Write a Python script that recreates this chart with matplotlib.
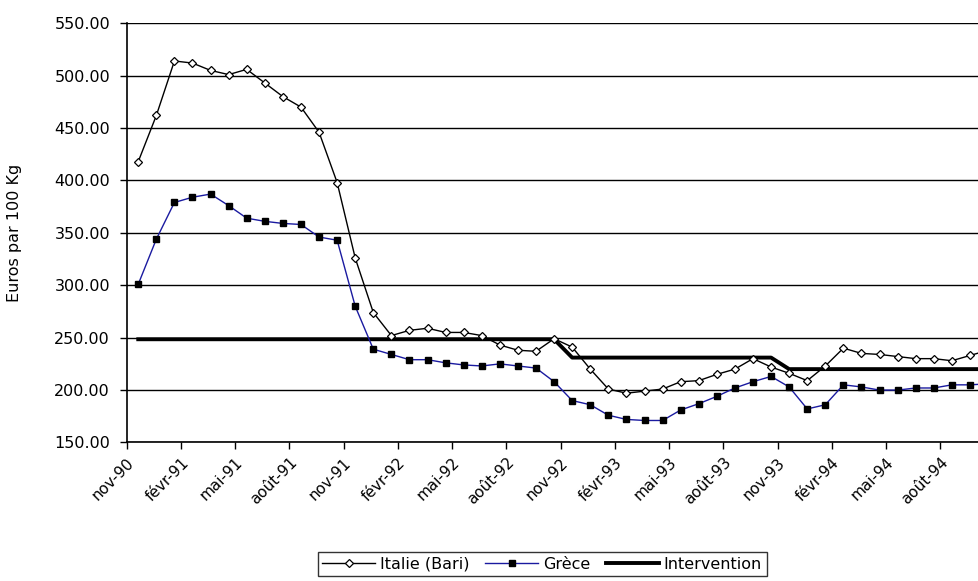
import matplotlib.pyplot as plt

plt.rcParams['font.family'] = ['DejaVu Sans']

# === Données (mensuelles, nov-90 -> oct-94) ===
italie = [418, 462, 514, 512, 505, 501, 506, 493, 480, 470, 446, 398,
          326, 274, 252, 257, 259, 255, 255, 252, 243, 238, 237, 249,
          241, 220, 201, 197, 199, 201, 208, 209, 215, 220, 230, 222,
          216, 209, 223, 240, 235, 234, 232, 230, 230, 228, 233, 238]
grece = [301, 344, 379, 384, 387, 376, 364, 361, 359, 358, 346, 343,
         280, 239, 234, 229, 229, 226, 224, 223, 225, 223, 221, 208,
         190, 186, 176, 172, 171, 171, 181, 187, 194, 202, 208, 213,
         203, 182, 186, 205, 203, 200, 200, 202, 202, 205, 205, 206]
intervention = [248.5] * 24 + [231] * 12 + [220] * 12

mois = ["nov-90", "févr-91", "mai-91", "août-91", "nov-91", "févr-92",
        "mai-92", "août-92", "nov-92", "févr-93", "mai-93", "août-93",
        "nov-93", "févr-94", "mai-94", "août-94"]

x = list(range(len(italie)))

# === Figure ===
fig = plt.figure(figsize=(9.79, 5.81), dpi=100)
ax = fig.add_axes([0.1294, 0.2384, 0.8706, 0.7216])

ax.plot(x, italie, color="black", lw=1, marker="D", markersize=4.3,
        markerfacecolor="white", markeredgecolor="black", markeredgewidth=0.9,
        label="Italie (Bari)", zorder=4)
ax.plot(x, grece, color="#1a1aa0", lw=1, marker="s", markersize=5,
        markerfacecolor="black", markeredgecolor="black",
        label="Grèce", zorder=4)
ax.plot(x, intervention, color="black", lw=2.8, label="Intervention", zorder=3)

# === Axes ===
ax.set_ylim(150, 550)
ax.set_yticks(range(150, 551, 50))
ax.set_yticklabels([f"{v:.2f}" for v in range(150, 551, 50)], fontsize=11.5)
ax.set_xlim(-0.64, 46.5)
ax.set_xticks([-0.64 + 3 * k for k in range(len(mois))])
ax.set_xticklabels(mois, rotation=45, ha="right", rotation_mode="anchor", fontsize=11)
ax.tick_params(axis="both", direction="out", length=5, width=1, color="black")
ax.tick_params(axis="x", pad=4)
ax.tick_params(axis="y", pad=7)
ax.set_ylabel("Euros par 100 Kg", fontsize=11.5)
ax.yaxis.set_label_coords(-0.123, 0.5)

ax.grid(axis="y", color="black", lw=1)
ax.set_axisbelow(True)
for s in ["top", "right"]:
    ax.spines[s].set_visible(False)
ax.spines["left"].set_linewidth(1.2)
ax.spines["bottom"].set_linewidth(1.2)

# === Légende ===
leg = fig.legend(loc="center", bbox_to_anchor=(0.5537, 0.029), ncol=3,
                 fontsize=11.5, frameon=True, fancybox=False, handlelength=3.3,
                 borderpad=0.3, columnspacing=1.0, handletextpad=0.3)
leg.get_frame().set_edgecolor("black")
leg.get_frame().set_linewidth(1)

plt.savefig("out.png", dpi=100)
